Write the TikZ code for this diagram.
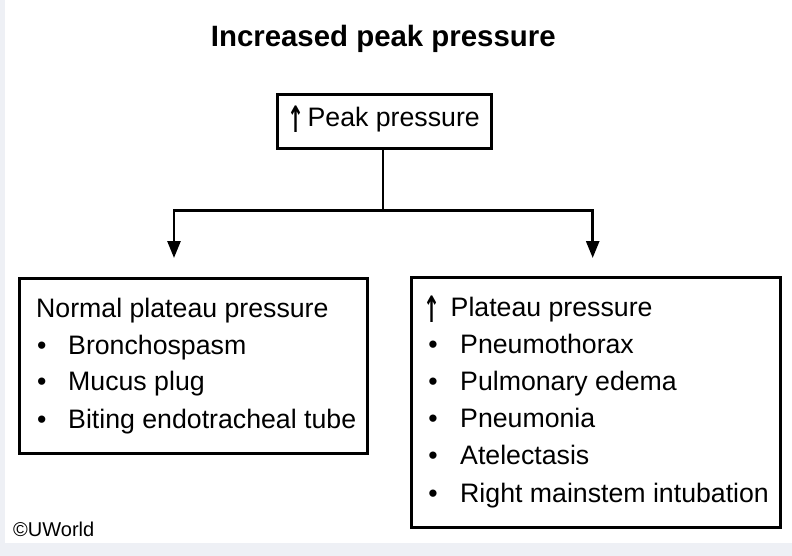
\documentclass[tikz,border=0pt]{standalone}
\usepackage{fontspec}
\setmainfont{Liberation Sans}
\newfontfamily\arrowfont{DejaVu Sans}
\usetikzlibrary{arrows.meta}
\definecolor{frame}{RGB}{238,240,245}
\newcommand\uparr{\raisebox{-6.3pt}{\resizebox*{17pt}{26.6pt}{\raisebox{\depth}{\arrowfont\bfseries ↑}}}}
\tikzset{
  box/.style={draw=black, line width=2.8pt, rectangle, inner sep=0pt},
  body/.style={inner sep=0pt, font=\fontsize{26.7}{30}\selectfont, anchor=base west},
  dot/.style={inner sep=0pt, font=\fontsize{26.7}{30}\selectfont, anchor=base},
  link/.style={line width=2.7pt, line join=miter},
  conn/.style={link, -{Triangle[length=17pt,width=13pt]}}
}
\begin{document}
\begin{tikzpicture}[x=1pt,y=-1pt]
\fill[frame] (0,0) rectangle (792,556);
\fill[white] (5,0) rectangle (792,543);
\useasboundingbox (0,0) rectangle (792,556);

\node[inner sep=0pt, anchor=base, font=\bfseries\fontsize{29.4}{32}\selectfont] (title) at (383.3,46.7) {Increased peak pressure};

\node[box, minimum width=214pt, minimum height=54pt] (top) at (384.5,121.5) {};
\node[body, anchor=base east] (toptext) at (480,126.7) {\uparr\hspace{2.75pt}Peak pressure};

\node[box, minimum width=348pt, minimum height=175pt] (left) at (193.5,365.8) {};
\node[box, minimum width=369pt, minimum height=250pt] (right) at (595.9,402.8) {};

\coordinate (hub) at (383,210.7);
\coordinate (ltip) at (174,258);
\coordinate (rtip) at (592.7,258);
\draw[link] (top.south -| hub) -- (hub);
\draw[conn] (hub) -| (ltip);
\draw[conn] (hub) -| (rtip);

% left box
\node[body] (lhead) at (36,317) {Normal plateau pressure};
\node[dot] (lb1) at (41.7,354) {•};
\node[body] (li1) at (68,354) {Bronchospasm};
\node[dot] (lb2) at (41.7,390.7) {•};
\node[body] (li2) at (68,390.7) {Mucus plug};
\node[dot] (lb3) at (41.7,428) {•};
\node[body] (li3) at (68,428) {Biting endotracheal tube};

% right box
\node[body] (rhead) at (423.75,316) {\uparr\hspace{9.75pt}Plateau pressure};
\node[dot] (rb1) at (433,353) {•};
\node[body] (ri1) at (460,353) {Pneumothorax};
\node[dot] (rb2) at (433,390) {•};
\node[body] (ri2) at (460,390) {Pulmonary edema};
\node[dot] (rb3) at (433,427) {•};
\node[body] (ri3) at (460,427) {Pneumonia};
\node[dot] (rb4) at (433,464) {•};
\node[body] (ri4) at (460,464) {Atelectasis};
\node[dot] (rb5) at (433,502) {•};
\node[body] (ri5) at (460,502) {Right mainstem intubation};

\node[inner sep=0pt, anchor=base west, font=\fontsize{20}{22}\selectfont] (copy) at (13,536.7) {©UWorld};
\end{tikzpicture}
\end{document}
